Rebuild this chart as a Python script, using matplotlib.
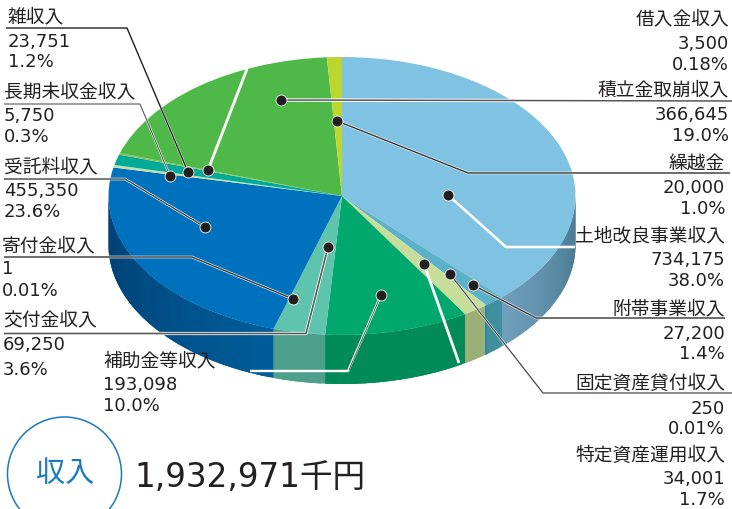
import numpy as np
import matplotlib
matplotlib.use("Agg")
import matplotlib.pyplot as plt
from matplotlib.colors import to_rgb
from matplotlib.patches import Circle

plt.rcParams['font.family'] = ['DejaVu Sans', 'Noto Sans CJK JP']

# ---- data (clockwise from the top of the pie) ----
names = ['土地改良事業収入', '附帯事業収入', '特定資産運用収入', '固定資産貸付収入',
         '補助金等収入', '交付金収入', '寄付金収入', '受託料収入', '長期未収金収入',
         '雑収入', '借入金収入', '積立金取崩収入', '繰越金']
values = [734175, 27200, 34001, 250, 193098, 69250, 1, 455350, 5750, 23751, 3500, 366645, 20000]
amount_labels = ['734,175', '27,200', '34,001', '250', '193,098', '69,250', '1', '455,350',
                 '5,750', '23,751', '3,500', '366,645', '20,000']
percent_labels = ['38.0%', '1.4%', '1.7%', '0.01%', '10.0%', '3.6%', '0.01%', '23.6%',
                  '0.3%', '1.2%', '0.18%', '19.0%', '1.0%']
title_label = '収入'
total_label = '1,932,971千円'

# ---- styles ----
top_colors = ['#7fc2e2', '#5bb2c8', '#c6de9a', '#c6de9a', '#00a86e', '#5fc4ae', '#5fc4ae',
              '#0071bc', '#c5e0a5', '#00aa98', '#8fc050', '#4eb848', '#bcd62f']
# wall colour at the wedge's clockwise start / end
wall_colors = [('#45748c', '#6f9fbb'), ('#3f8f9e', '#3f8f9e'), ('#9bb077', '#9bb077'),
               ('#9bb077', '#9bb077'), ('#008b58', '#008b58'), ('#4e9f8c', '#4e9f8c'),
               ('#4e9f8c', '#4e9f8c'), ('#005d9a', '#003d70'), ('#003d70', '#003d70'),
               ('#003d70', '#003d70'), ('#003d70', '#003d70'), ('#003d70', '#003d70'),
               ('#003d70', '#003d70')]
W, H = 732, 510
CX, CY, RX, RY, DEPTH = 342, 197, 233.5, 139, 49
TEXT = '#231f20'
BLUE = '#1a7abf'

fig = plt.figure(figsize=(W / 100, H / 100), dpi=100)
ax = fig.add_axes([0, 0, 1, 1])
ax.axis('off')

# ---- top face ----
ax.pie(values, colors=top_colors, startangle=90, counterclock=False, radius=1,
       wedgeprops=dict(linewidth=0))
ax.set_aspect('auto')
ax.set_xlim(-CX / RX, (W - CX) / RX)
ax.set_ylim((CY - H) / RY, CY / RY)
for w in ax.patches:
    w.set_zorder(3)

# ---- side wall: overlapping strips under the front half of the ellipse ----
fractions = np.concatenate([[0], np.cumsum(values)]) / np.sum(values) * 360
d = DEPTH / RY
for i in range(len(values)):
    a0, a1 = max(fractions[i], 90), min(fractions[i + 1], 270)
    if a1 <= a0:
        continue
    n = max(2, int((a1 - a0) / 0.8))
    edges = np.linspace(a0, a1, n + 1)
    c0, c1 = np.array(to_rgb(wall_colors[i][0])), np.array(to_rgb(wall_colors[i][1]))
    for j in range(n):
        t = np.radians(np.linspace(edges[j], min(edges[j + 1] + 1.0, a1), 5))
        xs = np.sin(t)
        ys = np.cos(t)
        col = c0 + (c1 - c0) * (j + 0.5) / n
        ax.fill(np.r_[xs, xs[::-1]], np.r_[ys, ys[::-1] - d], color=col, lw=0, zorder=2)
# dark seam between the two wedges right of 特定資産運用収入
t = np.radians(fractions[2])
ax.plot([np.sin(t)] * 2, [np.cos(t), np.cos(t) - d], color='#1f7fa8', lw=1.2, zorder=2.5)

# ---- overlay in pixel space: leaders, dots and text ----
ov = fig.add_axes([0, 0, 1, 1])
ov.set_xlim(0, W)
ov.set_ylim(H, 0)
ov.axis('off')
ov.patch.set_alpha(0)

# path points, dark line colour (None = white only), dark width, white width
leaders = [
    ([(448, 196), (506, 248), (575, 248)], None, 0, 2.6),
    ([(473, 286), (536, 319), (725, 319)], '#333333', 1.4, 2.6),
    ([(424, 265), (459, 364)], None, 0, 2.8),
    ([(450, 275), (543, 394), (732, 394)], '#444444', 1.2, 2.2),
    ([(381, 296), (348, 372), (250, 372)], None, 0, 2.4),
    ([(381, 296), (366, 331), (349, 371)], '#666666', 1.0, 0),
    ([(328, 248), (306, 334.5), (4, 334.5)], '#555555', 1.6, 3.2),
    ([(293, 300), (192, 258), (4, 258)], '#333333', 1.4, 2.6),
    ([(205, 228), (125, 180), (4, 180)], '#444444', 1.4, 2.6),
    ([(170, 177), (140, 105), (4, 105)], '#555555', 1.1, 2.2),
    ([(188, 173), (127, 29), (6, 29)], '#222222', 1.4, 2.2),
    ([(208, 171), (247, 70)], None, 0, 2.8),
    ([(281, 101), (732, 102)], '#555555', 1.5, 3.4),
    ([(337, 122), (468, 174), (730, 174)], '#333333', 1.4, 2.6),
]
for pts, dark, dw, ww in leaders:
    xs, ys = zip(*pts)
    if ww:
        ov.plot(xs, ys, color='white', lw=ww * 0.72, solid_capstyle='butt', zorder=4)
    if dark:
        ov.plot(xs, ys, color=dark, lw=dw * 0.72, solid_capstyle='butt', zorder=5)

dot_x = [448, 473, 424, 450, 381, 328, 293, 205, 170, 188, 208, 281, 337]
dot_y = [196, 286, 265, 275, 296, 248, 300, 228, 177, 173, 171, 101, 122]
ov.scatter(dot_x, dot_y, s=62, color='#231f20', edgecolor='white', linewidth=0.6, zorder=6)

# label anchors: x, y of name / amount / percent, alignment
anchors = {
    0: (725, 236, 260, 281, 'right'), 1: (725, 309, 334, 354, 'right'),
    2: (725, 455, 479, 500, 'right'), 3: (725, 383, 409, 429, 'right'),
    4: (103, 361, 385, 406, 'left'), 5: (3, 320, 345, 370, 'left'),
    6: (2, 246, 269, 291, 'left'), 7: (4, 167, 191, 212, 'left'),
    8: (4, 92, 116, 137, 'left'), 9: (8, 17, 42, 62, 'left'),
    10: (729, 19, 44, 65, 'right'), 11: (729, 90, 115, 136, 'right'),
    12: (725, 164, 188, 209, 'right'),
}
for i, (x, y0, y1, y2, ha) in anchors.items():
    ov.text(x, y0, names[i], ha=ha, va='center', fontsize=13.5, color=TEXT, zorder=7)
    ov.text(x, y1, amount_labels[i], ha=ha, va='center', fontsize=13, color=TEXT, zorder=7)
    ov.text(x, y2, percent_labels[i], ha=ha, va='center', fontsize=13, color=TEXT, zorder=7)

ov.add_patch(Circle((64.5, 475), 57, fill=False, edgecolor=BLUE, lw=1.1, zorder=7))
ov.text(65, 474, title_label, ha='center', va='center', fontsize=21, color=BLUE, zorder=7)
ov.text(134, 478, total_label, ha='left', va='center', fontsize=23.5, color=TEXT, zorder=7)

fig.savefig('out.png', dpi=100, facecolor='white')
